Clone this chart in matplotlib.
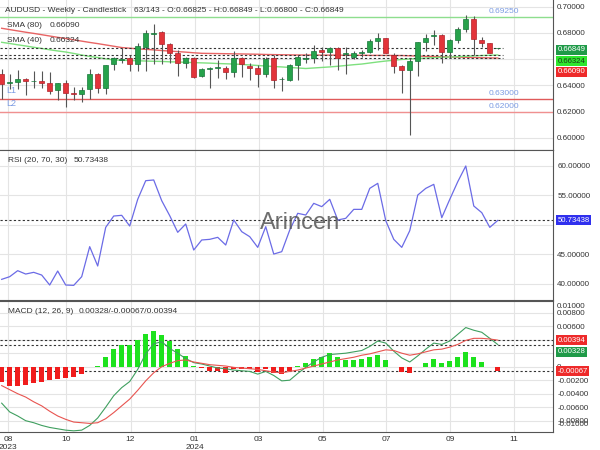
import numpy as np
import matplotlib.pyplot as plt

plt.rcParams['font.family'] = ['Liberation Sans', 'DejaVu Sans']

# ================= DATA =================
month_labels = ['08\n2023', '10', '12', '01\n2024', '03', '05', '07', '09', '11']
month_pos = [0.84, 8.1, 16.1, 24.1, 32.1, 40.1, 48.05, 56.05, 64.05]

opens = [0.6487, 0.6421, 0.6426, 0.6449, 0.6431, 0.6436, 0.6416, 0.6365, 0.6416, 0.6339,
         0.6332, 0.6370, 0.6487, 0.6378, 0.6561, 0.6594, 0.6607, 0.6563, 0.6696, 0.6795,
         0.6805, 0.6716, 0.6645, 0.6568, 0.6607, 0.6472, 0.6525, 0.6530, 0.6535, 0.6505,
         0.6607, 0.6551, 0.6530, 0.6487, 0.6607, 0.6446, 0.6441, 0.6556, 0.6604, 0.6607,
         0.6670, 0.6652, 0.6683, 0.6642, 0.6619, 0.6647, 0.6658, 0.6742, 0.6759, 0.6632,
         0.6548, 0.6518, 0.6589, 0.6734, 0.6777, 0.6785, 0.6658, 0.6747, 0.6831, 0.6907,
         0.6747, 0.6721, 0.66825]
highs = [0.6523, 0.6487, 0.6518, 0.6459, 0.6510, 0.6510, 0.6505, 0.6421, 0.6441, 0.6385,
         0.6385, 0.6523, 0.6497, 0.6558, 0.6619, 0.6683, 0.6632, 0.6721, 0.6823, 0.6869,
         0.6818, 0.6726, 0.6670, 0.6614, 0.6614, 0.6530, 0.6543, 0.6594, 0.6548, 0.6663,
         0.6619, 0.6568, 0.6556, 0.6619, 0.6632, 0.6462, 0.6563, 0.6632, 0.6645, 0.6708,
         0.6696, 0.6696, 0.6696, 0.6696, 0.6665, 0.6670, 0.6752, 0.6798, 0.6759, 0.6645,
         0.6556, 0.6607, 0.6729, 0.6790, 0.6823, 0.6792, 0.6752, 0.6848, 0.6937, 0.6930,
         0.6767, 0.6726, 0.66849]
lows = [0.6294, 0.6370, 0.6370, 0.6324, 0.6378, 0.6378, 0.6332, 0.6289, 0.6233, 0.6289,
        0.6271, 0.6299, 0.6339, 0.6332, 0.6518, 0.6568, 0.6513, 0.6513, 0.6513, 0.6563,
        0.6563, 0.6568, 0.6472, 0.6535, 0.6459, 0.6466, 0.6378, 0.6454, 0.6449, 0.6467,
        0.6467, 0.6441, 0.6385, 0.6462, 0.6378, 0.6360, 0.6436, 0.6441, 0.6568, 0.6568,
        0.6589, 0.6556, 0.6518, 0.6487, 0.6599, 0.6619, 0.6645, 0.6670, 0.6645, 0.6497,
        0.6345, 0.6021, 0.6472, 0.6665, 0.6708, 0.6574, 0.6607, 0.6721, 0.6810, 0.6632,
        0.6696, 0.6645, 0.66800]
closes = [0.6411, 0.6429, 0.6451, 0.6431, 0.6436, 0.6421, 0.6360, 0.6416, 0.6339, 0.6332,
          0.6365, 0.6487, 0.6378, 0.6553, 0.6607, 0.6601, 0.6563, 0.6703, 0.6803, 0.6803,
          0.6719, 0.6650, 0.6568, 0.6607, 0.6467, 0.6525, 0.6533, 0.6538, 0.6505, 0.6607,
          0.6563, 0.6535, 0.6487, 0.6599, 0.6441, 0.6451, 0.6553, 0.6619, 0.6609, 0.6665,
          0.6652, 0.6683, 0.6607, 0.6647, 0.6650, 0.6652, 0.6742, 0.6759, 0.6650, 0.6551,
          0.6518, 0.6589, 0.6729, 0.6764, 0.6787, 0.6658, 0.6747, 0.6828, 0.6907, 0.6752,
          0.6721, 0.6650, 0.66849]

sma80 = [0.6836, 0.6826, 0.6816, 0.6806, 0.6797, 0.6787, 0.6777, 0.6767, 0.6758, 0.6748,
         0.6738, 0.6728, 0.6719, 0.6709, 0.6699, 0.6689, 0.6684, 0.6679, 0.6675, 0.6671,
         0.6666, 0.6662, 0.6658, 0.6654, 0.6649, 0.6645, 0.6644, 0.6643, 0.6642, 0.6641,
         0.6640, 0.6639, 0.6638, 0.6636, 0.6635, 0.6634, 0.6633, 0.6632, 0.6632, 0.6632,
         0.6631, 0.6631, 0.6631, 0.6630, 0.6630, 0.6630, 0.6629, 0.6629, 0.6629, 0.6628,
         0.6628, 0.6626, 0.6624, 0.6622, 0.6621, 0.6619, 0.6617, 0.6616, 0.6614, 0.6613,
         0.6611, 0.6610, 0.6609]
sma40 = [0.6729, 0.6720, 0.6710, 0.6701, 0.6691, 0.6682, 0.6672, 0.6663, 0.6655, 0.6644,
         0.6632, 0.6621, 0.6613, 0.6603, 0.6594, 0.6592, 0.6590, 0.6588, 0.6586, 0.6584,
         0.6583, 0.6580, 0.6579, 0.6576, 0.6574, 0.6572, 0.6570, 0.6567, 0.6565, 0.6563,
         0.6560, 0.6556, 0.6552, 0.6548, 0.6544, 0.6541, 0.6537, 0.6533, 0.6529, 0.6533,
         0.6537, 0.6541, 0.6546, 0.6552, 0.6558, 0.6563, 0.6571, 0.6579, 0.6586, 0.6592,
         0.6598, 0.6602, 0.6605, 0.6609, 0.6612, 0.6615, 0.6617, 0.6619, 0.6622, 0.6625,
         0.6628, 0.6630, 0.66324]

rsi = [40.74, 41.19, 42.21, 41.64, 41.93, 41.47, 39.78, 42.15, 39.78, 39.72,
       41.19, 46.28, 43.00, 49.55, 51.47, 51.59, 49.78, 54.30, 57.46, 57.58,
       54.07, 51.53, 48.71, 50.12, 45.71, 47.41, 47.52, 47.86, 46.56, 50.80,
       48.82, 47.97, 46.16, 49.67, 45.03, 45.43, 49.10, 51.93, 51.64, 53.62,
       53.06, 54.30, 50.80, 51.08, 52.60, 52.60, 56.16, 57.01, 50.68, 47.52,
       46.16, 48.99, 55.03, 56.16, 56.84, 51.19, 54.30, 57.29, 59.95, 53.17,
       52.04, 49.55, 50.73]

macd = [-0.0054, -0.0067, -0.0073, -0.0080, -0.0083, -0.0087, -0.0090, -0.0092, -0.0094, -0.0095,
        -0.0094, -0.0087, -0.0076, -0.0060, -0.0043, -0.0031, -0.0022, -0.0004, 0.0019, 0.0034,
        0.0037, 0.0027, 0.0020, 0.0012, 0.0006, 0.0004, 0.0001, -0.0002, -0.0003, -0.0005,
        -0.0006, -0.0007, -0.0011, -0.0007, -0.0013, -0.0021, -0.0020, -0.0010, -0.0001, 0.0007,
        0.0014, 0.0018, 0.0019, 0.0020, 0.0022, 0.0024, 0.0030, 0.0038, 0.0035, 0.0023,
        0.0013, 0.0007, 0.0016, 0.0026, 0.0035, 0.0033, 0.0038, 0.0048, 0.0058, 0.0054,
        0.0051, 0.0042, 0.00328]
signal = [-0.0028, -0.0034, -0.0040, -0.0045, -0.0052, -0.0058, -0.0066, -0.0073, -0.0078, -0.0082,
          -0.0083, -0.0084, -0.0083, -0.0077, -0.0068, -0.0058, -0.0048, -0.0035, -0.0021, -0.0009,
          0.0000, 0.0005, 0.0009, 0.0010, 0.0007, 0.0005, 0.0003, 0.0002, 0.0001, -0.0001,
          -0.0002, -0.0003, -0.0004, -0.0006, -0.0008, -0.0009, -0.0007, -0.0005, -0.0002, 0.0001,
          0.0004, 0.0007, 0.0010, 0.0012, 0.0014, 0.0017, 0.0019, 0.0022, 0.0025, 0.0024,
          0.0020, 0.0017, 0.0019, 0.0022, 0.0025, 0.0026, 0.0029, 0.0033, 0.0039, 0.0042,
          0.0042, 0.0041, 0.00394]
hist = [-0.0023, -0.0028, -0.0028, -0.0027, -0.0024, -0.0022, -0.0020, -0.0018, -0.0017, -0.0016,
        -0.0011, 0.0000, 0.0001, 0.0015, 0.0026, 0.0032, 0.0032, 0.0040, 0.0049, 0.0053,
        0.0047, 0.0038, 0.0026, 0.0016, 0.0001, -0.0002, -0.0007, -0.0006, -0.0010, -0.0003,
        -0.0004, -0.0004, -0.0008, -0.0003, -0.0009, -0.0011, -0.0006, 0.0001, 0.0006, 0.0011,
        0.0014, 0.0020, 0.0014, 0.0010, 0.0010, 0.0011, 0.0014, 0.0017, 0.0010, 0.0000,
        -0.0008, -0.0010, -0.0001, 0.0006, 0.0011, 0.0006, 0.0009, 0.0014, 0.0022, 0.0015,
        0.0007, -0.0001, -0.00067]

resistance = 0.6925
supports = [0.6300, 0.6200]
last_close, last_sma40, last_sma80 = 0.66849, 0.66324, 0.66090
last_rsi = 50.73438
last_macd, last_hist, last_signal = 0.00328, -0.00067, 0.00394

# ================= FIGURE =================
W, H = 600, 450
fig = plt.figure(figsize=(6, 4.5), dpi=100)

def panel(top, bottom):
    return fig.add_axes([0, 1 - bottom / H, 553 / W, (bottom - top) / H])

ax1 = panel(0, 149.5)
ax2 = panel(150, 300)
ax3 = panel(301, 432)

x = np.arange(len(opens))
x_end = len(opens) - 0.6

for ax in (ax1, ax2, ax3):
    ax.set_xlim(-0.21, 68.9)
    ax.set_xticks(month_pos)
    ax.yaxis.tick_right()
    ax.tick_params(length=0, labelsize=5.8, colors='#333333', pad=3)
    ax.grid(color='#e4e4e4', lw=0.8)
    ax.set_axisbelow(True)
    ax.spines['left'].set_visible(False)
    for s in ('top', 'bottom', 'right'):
        ax.spines[s].set_color('#555555')
ax1.spines['top'].set_visible(False)
ax1.tick_params(labelbottom=False)
ax2.tick_params(labelbottom=False)
ax3.set_xticklabels(month_labels)
ax3.tick_params(axis='x', labelsize=6, pad=3)


def tag(ax, val, txt, fc, tc, dy=0):
    ax.annotate(txt, xy=(1, val), xycoords=ax.get_yaxis_transform(),
                xytext=(3.3, dy), textcoords='offset points', ha='left', va='center',
                fontsize=5.6, color=tc, annotation_clip=False, zorder=10,
                bbox=dict(boxstyle='square,pad=0.18', fc=fc, ec='none'))


# --- Price panel ---
ax1.set_ylim(0.59107, 0.70519)
ax1.set_yticks([0.60, 0.62, 0.64, 0.66, 0.68, 0.70])
ax1.set_yticklabels(['0.60000', '0.62000', '0.64000', '', '0.68000', '0.70000'])

ax1.axhline(resistance, color='#8ede8e', lw=1, zorder=1)
ax1.axhline(supports[0], color='#e05a5a', lw=1, zorder=1)
ax1.axhline(supports[1], color='#f09090', lw=1, zorder=1)
for lvl in [resistance] + supports:
    ax1.annotate('%.5f' % lvl, xy=(0.884, lvl), xycoords=ax1.get_yaxis_transform(),
                 xytext=(0, 3.8), textcoords='offset points', va='center', ha='left',
                 fontsize=6, color='#7b9be3')
for name, lvl in zip(['L1', 'L2'], supports):
    ax1.annotate(name, xy=(0.012, lvl), xycoords=ax1.get_yaxis_transform(),
                 xytext=(0, 5.8), textcoords='offset points', va='center', ha='left',
                 fontsize=6.5, color='#7b9be3')

ax1.plot(x, sma80, color='#e86464', lw=1, zorder=2)
ax1.plot(x, sma40, color='#7ee07e', lw=1, zorder=2)
for lvl in (last_close, last_sma40, last_sma80):
    ax1.plot([-0.21, x_end + 0.2], [lvl, lvl], color='#333333', lw=0.8,
             ls=(0, (2, 2)), zorder=3)

o = np.array(opens); c = np.array(closes)
up = c >= o
body_col = np.where(up, '#27a24b', '#e2343a')
edge_col = np.where(up, '#17783a', '#b0222a')
ax1.vlines(x, lows, highs, color='#555555', lw=0.8, zorder=4)
ax1.bar(x, np.maximum(np.abs(c - o), 0.0006), bottom=np.minimum(o, c), width=0.62,
        color=body_col, edgecolor=edge_col, linewidth=0.5, zorder=5)

tag(ax1, last_close, '%.5f' % last_close, '#1f9a48', 'white', dy=-1.2)
tag(ax1, last_sma40, '%.5f' % last_sma40, '#2ee62e', '#1a3a1a', dy=-4.5)
tag(ax1, last_sma80, '%.5f' % last_sma80, '#ee2a2a', 'white', dy=-9.8)

# --- RSI panel ---
ax2.set_ylim(37.24, 62.66)
ax2.set_yticks([40, 45, 50, 55, 60])
ax2.set_yticklabels(['40.00000', '45.00000', '', '55.00000', '60.00000'])
ax2.plot(x, rsi, color='#6b6be6', lw=0.9, zorder=3)
ax2.axhline(last_rsi, color='#333333', lw=0.8, ls=(0, (2, 2)), zorder=2)
ax2.text(0.542, 0.51, 'Arincen', transform=ax2.transAxes, ha='center', va='center',
         fontsize=17, color='#555555', alpha=0.85, zorder=4)
tag(ax2, last_rsi, '%.5f' % last_rsi, '#3030ee', 'white')

# --- MACD panel ---
ax3.set_ylim(-0.009674, 0.009733)
ax3.set_yticks([-0.008, -0.006, -0.004, -0.002, 0, 0.002, 0.004, 0.006, 0.008])
ax3.set_yticklabels(['-0.00800', '-0.00600', '-0.00400', '-0.00200', '0',
                     '', '', '0.00600', '0.00800'])
for lbl, val in (('0.01000', 0.0089), ('-0.01000', -0.0086)):
    ax3.annotate(lbl, xy=(1, val), xycoords=ax3.get_yaxis_transform(),
                 xytext=(3, 0), textcoords='offset points', va='center', ha='left',
                 fontsize=5.8, color='#333333', annotation_clip=False)
h = np.array(hist)
ax3.bar(x, h, width=0.62, color=np.where(h >= 0, '#1de21d', '#f01c1c'), zorder=3)
ax3.plot(x, macd, color='#3f9f5f', lw=0.8, zorder=4)
ax3.plot(x, signal, color='#e85450', lw=0.8, zorder=4)
for lvl in (last_signal, last_macd, last_hist):
    ax3.axhline(lvl, color='#333333', lw=0.8, ls=(0, (2, 2)), zorder=2)
tag(ax3, last_signal, '%.5f' % last_signal, '#ee2a2a', 'white')
tag(ax3, last_macd, '%.5f' % last_macd, '#1f9a48', 'white', dy=-5.3)
tag(ax3, last_hist, '%.5f' % last_hist, '#ee2a2a', 'white')

# --- Header texts ---
def ftext(px, py, s, **kw):
    fig.text(px / W, 1 - py / H, s, ha='left', va='center', color='#333333', **kw)

ftext(5, 10.3, 'AUDUSD - Weekly - Candlestick', fontsize=6)
ftext(134, 10.3, '63/143 - O:0.66825 - H:0.66849 - L:0.66800 - C:0.66849', fontsize=6)
ftext(7.3, 25.3, 'SMA (80)', fontsize=6)
ftext(50, 25.3, '%.5f' % last_sma80, fontsize=6)
ftext(7.3, 40.7, 'SMA (40)', fontsize=6)
ftext(50, 40.7, '%.5f' % last_sma40, fontsize=6)
ftext(7.7, 161, 'RSI (20, 70, 30)', fontsize=6)
ftext(73.5, 161, '%.5f' % last_rsi, fontsize=6)
ftext(7.7, 311.7, 'MACD (12, 26, 9)', fontsize=6)
ftext(79, 311.7, '%.5f/%.5f/%.5f' % (last_macd, last_hist, last_signal), fontsize=6)

fig.savefig('out.png', dpi=100)
